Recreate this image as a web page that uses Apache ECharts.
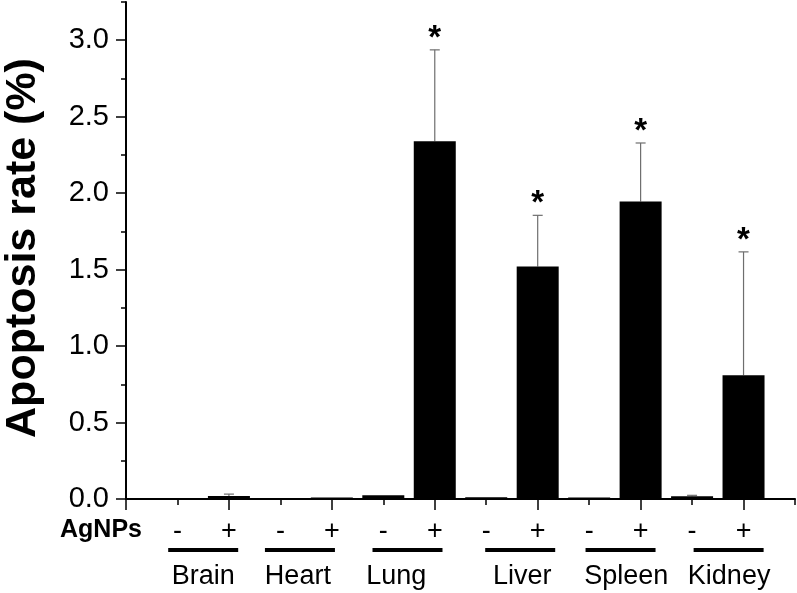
<!DOCTYPE html>
<html>
<head>
<meta charset="utf-8">
<script src="https://cdn.jsdelivr.net/npm/echarts@6/dist/echarts.min.js"></script>
<style>
  html, body { margin: 0; padding: 0; background: #fff; }
  #chart { width: 797px; height: 593px; }
</style>
</head>
<body>
<div id="chart"></div>
<script>
// data
const signs = ["-", "+", "-", "+", "-", "+", "-", "+", "-", "+", "-", "+"];
const values = [0.0, 0.02, 0.0, 0.01, 0.024, 2.34, 0.012, 1.52, 0.01, 1.945, 0.018, 0.81];
const errors = [0, 0.012, 0, 0, 0, 0.597, 0, 0.335, 0, 0.383, 0.006, 0.806];
const starred = [0, 0, 0, 0, 0, 1, 0, 1, 0, 1, 0, 1];
const organs = ["Brain", "Heart", "Lung", "Liver", "Spleen", "Kidney"];
const organLines = [1.5, 3.38, 5.47, 7.66, 9.61, 11.71];
const organLabels = [1.5, 3.34, 5.25, 7.7, 9.72, 11.72];
const yTicks = [0, 0.5, 1.0, 1.5, 2.0, 2.5, 3.0];

const FONT = '"Liberation Sans", Arial, sans-serif';
const quarterSteps = [];
for (let i = 0; i <= 13; i++) quarterSteps.push(String(i * 0.25));
const unitSteps = [];
for (let i = 0; i <= 13; i++) unitSteps.push(String(i));

const chart = echarts.init(document.getElementById("chart"));

const option = {
  backgroundColor: "#fff",
  animation: false,
  grid: { left: 126, right: 2, top: 2, bottom: 94, outerBoundsMode: "none" },
  xAxis: [
    {
      type: "value",
      min: 0,
      max: 13,
      interval: 1,
      splitLine: { show: false },
      axisLine: { lineStyle: { color: "#000", width: 2 } },
      axisTick: { length: 6, lineStyle: { color: "#000", width: 1.5 } },
      axisLabel: {
        margin: 19,
        color: "#000",
        fontSize: 27,
        fontFamily: FONT,
        formatter: (v) => signs[v - 1] || ""
      }
    },
    {
      // long ticks under the "+" bars
      type: "category",
      data: unitSteps,
      boundaryGap: false,
      position: "bottom",
      axisLine: { show: false },
      axisTick: {
        length: 11,
        interval: (i) => i % 2 === 0 && i < 13,
        lineStyle: { color: "#000", width: 1.5 }
      },
      axisLabel: { show: false },
      splitLine: { show: false }
    }
  ],
  yAxis: [
    {
      type: "value",
      min: 0,
      max: 3.25,
      interval: 0.25,
      splitLine: { show: false },
      axisLine: { show: true, lineStyle: { color: "#000", width: 2 } },
      axisTick: { length: 5, lineStyle: { color: "#000", width: 1.5 } },
      axisLabel: {
        margin: 17,
        color: "#000",
        fontSize: 29,
        fontFamily: FONT,
        formatter: (v) => {
          const hit = yTicks.find((t) => Math.abs(t - v) < 1e-6);
          return hit === undefined ? "" : hit.toFixed(1);
        }
      }
    },
    {
      // long ticks at 0.5 steps
      type: "category",
      data: quarterSteps,
      boundaryGap: false,
      position: "left",
      axisLine: { show: false },
      axisTick: {
        length: 10,
        interval: (i) => i % 2 === 0,
        lineStyle: { color: "#000", width: 1.5 }
      },
      axisLabel: { show: false },
      splitLine: { show: false }
    }
  ],
  graphic: [
    {
      type: "text",
      x: 23,
      y: 248,
      rotation: Math.PI / 2,
      style: {
        text: "Apoptosis rate (%)",
        font: "bold 43px " + FONT,
        fill: "#000",
        align: "center",
        verticalAlign: "middle"
      }
    },
    {
      type: "text",
      left: 60,
      top: 518,
      style: { text: "AgNPs", font: "bold 25px " + FONT, fill: "#000" }
    }
  ],
  series: [
    {
      type: "bar",
      xAxisIndex: 0,
      yAxisIndex: 0,
      barWidth: 42,
      itemStyle: { color: "#000" },
      data: values.map((v, i) => [i + 1, v])
    },
    {
      type: "custom",
      xAxisIndex: 0,
      yAxisIndex: 0,
      clip: false,
      data: values.map((v, i) => [i + 1, v, errors[i], starred[i]]),
      renderItem: (params, api) => {
        const x = api.value(0);
        const v = api.value(1);
        const e = api.value(2);
        const s = api.value(3);
        const base = api.coord([x, v]);
        const top = api.coord([x, v + e]);
        const children = [];
        const st = { stroke: "#6e6e6e", lineWidth: 1.2 };
        if (e > 0) {
          children.push({ type: "line", shape: { x1: base[0], y1: base[1], x2: top[0], y2: top[1] }, style: st });
          children.push({ type: "line", shape: { x1: top[0] - 5, y1: top[1], x2: top[0] + 5, y2: top[1] }, style: st });
        }
        if (s) {
          children.push({
            type: "text",
            x: top[0],
            y: top[1] - 11,
            style: { text: "*", font: "bold 33px " + FONT, fill: "#000", align: "center", verticalAlign: "middle" }
          });
        }
        return { type: "group", children: children };
      }
    },
    {
      type: "custom",
      xAxisIndex: 0,
      yAxisIndex: 0,
      clip: false,
      silent: true,
      data: organLines.map((c, i) => [c, organLabels[i]]),
      renderItem: (params, api) => {
        const p = api.coord([api.value(0), 0]);
        const q = api.coord([api.value(1), 0]);
        return {
          type: "group",
          children: [
            { type: "rect", shape: { x: p[0] - 35, y: p[1] + 49, width: 70, height: 4 }, style: { fill: "#000" } },
            {
              type: "text",
              x: q[0],
              y: q[1] + 78,
              style: { text: organs[params.dataIndex], font: "27px " + FONT, fill: "#000", align: "center", verticalAlign: "middle" }
            }
          ]
        };
      }
    }
  ]
};

chart.setOption(option);
</script>
</body>
</html>
